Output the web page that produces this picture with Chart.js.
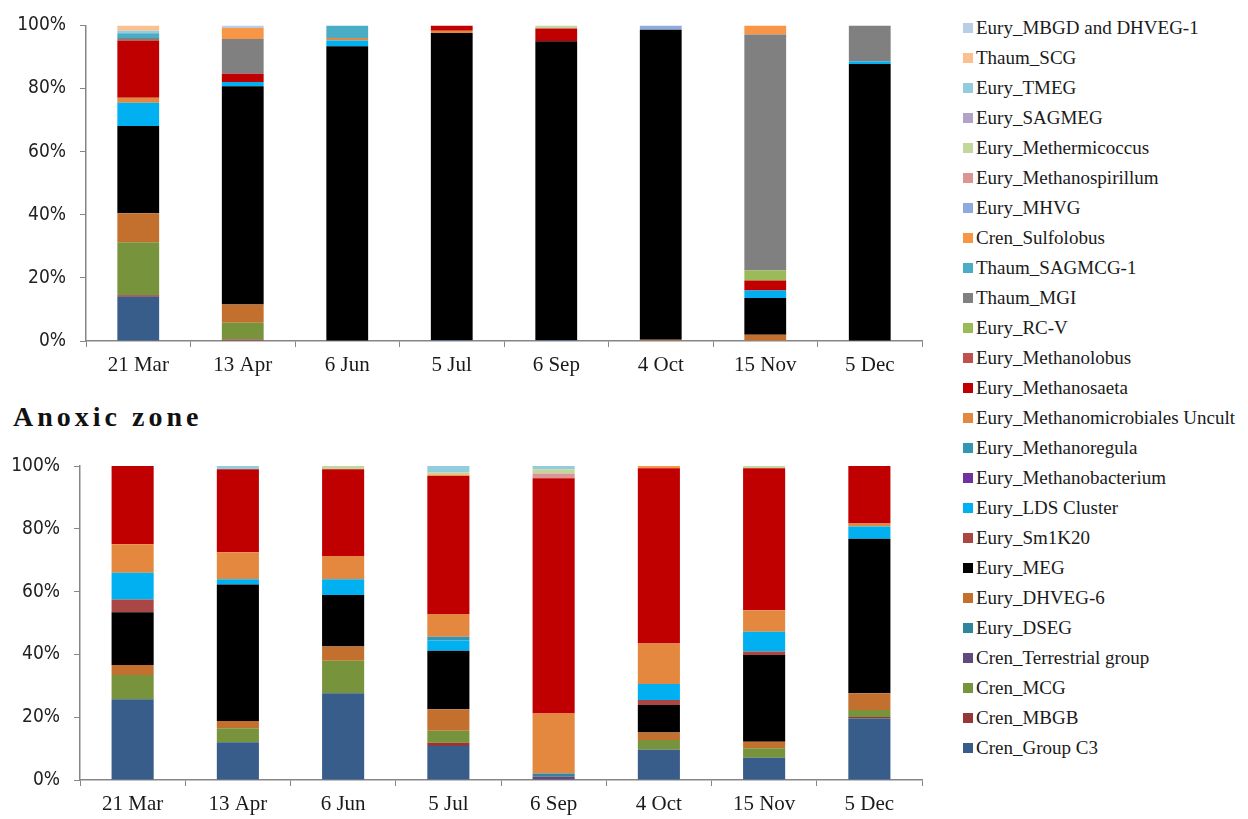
<!DOCTYPE html>
<html>
<head>
<meta charset="utf-8">
<script src="https://cdn.jsdelivr.net/npm/chart.js@4.4.0/dist/chart.umd.min.js"></script>
<style>
  body { margin: 0; background: #fff; width: 1248px; height: 819px; overflow: hidden; position: relative; }
  canvas { position: absolute; }
  #oxic { left: 0; top: 0; }
  #anoxic { left: 0; top: 440px; }
  #title2 { position: absolute; left: 13px; top: 401px; font: bold 28px "Liberation Serif", serif; letter-spacing: 4px; color: #111; }
  #legend { position: absolute; left: 963px; top: 13px; font: 19px "Liberation Serif", serif; color: #1a1a1a; }
  #legend div { height: 30px; line-height: 30px; white-space: nowrap; }
  #legend span { display: inline-block; width: 10px; height: 10px; margin-right: 3px; vertical-align: 1px; }
</style>
</head>
<body>
<canvas id="oxic" width="940" height="380"></canvas>
<div id="title2">Anoxic zone</div>
<canvas id="anoxic" width="940" height="379"></canvas>
<div id="legend"></div>

<script>
// sampling dates
const dates = ['21 Mar', '13 Apr', '6 Jun', '5 Jul', '6 Sep', '4 Oct', '15 Nov', '5 Dec'];
const yTicks = [0, 20, 40, 60, 80, 100];

// groups, bottom of the stack first
const groups = [
  'Cren_Group C3', 'Cren_MBGB', 'Cren_MCG', 'Cren_Terrestrial group', 'Eury_DSEG',
  'Eury_DHVEG-6', 'Eury_MEG', 'Eury_Sm1K20', 'Eury_LDS Cluster', 'Eury_Methanobacterium',
  'Eury_Methanoregula', 'Eury_Methanomicrobiales Uncult', 'Eury_Methanosaeta', 'Eury_Methanolobus', 'Eury_RC-V',
  'Thaum_MGI', 'Thaum_SAGMCG-1', 'Cren_Sulfolobus', 'Eury_MHVG', 'Eury_Methanospirillum',
  'Eury_Methermicoccus', 'Eury_SAGMEG', 'Eury_TMEG', 'Thaum_SCG', 'Eury_MBGD and DHVEG-1'
];
const colors = [
  '#385d8a', '#953735', '#77933c', '#604a7b', '#31859c',
  '#c3702f', '#000000', '#aa4643', '#00b0f0', '#7030a0',
  '#3296b4', '#e3883e', '#c00000', '#c0504d', '#9bbb59',
  '#808080', '#4bacc6', '#f79646', '#8ea9db', '#d99694',
  '#c3d69b', '#b3a2c7', '#93cddd', '#fac090', '#b9cde5'
];

// oxic zone (% of archaeal sequences)
const oxGroupC3   = [14.0, 0,    0,    0.3,  0.3,  0,    0,    0];
const oxMBGB      = [0.5,  0.5,  0,    0,    0,    0,    0,    0];
const oxMCG       = [16.8, 5.3,  0,    0,    0,    0,    0,    0];
const oxTerr      = [0,    0,    0,    0,    0,    0,    0,    0];
const oxDSEG      = [0,    0,    0,    0,    0,    0,    0,    0];
const oxDHVEG6    = [9.2,  5.8,  0,    0,    0,    0.4,  2.0,  0];
const oxMEG       = [27.6, 69.1, 93.4, 97.3, 94.7, 98.2, 11.6, 87.8];
const oxSm1K20    = [0,    0,    0,    0,    0,    0,    0,    0];
const oxLDS       = [7.4,  1.4,  1.8,  0,    0,    0,    2.4,  0.8];
const oxMbact     = [0,    0,    0,    0,    0,    0,    0,    0];
const oxMregula   = [0,    0,    0,    0,    0,    0,    0,    0];
const oxUncult    = [1.6,  0,    0.8,  0.7,  0,    0,    0,    0];
const oxMsaeta    = [18.1, 2.6,  0,    1.7,  4.0,  0,    3.2,  0];
const oxMlobus    = [0,    0,    0,    0,    0,    0,    0,    0];
const oxRCV       = [0,    0,    0,    0,    0,    0,    3.1,  0];
const oxMGI       = [0.8,  11.0, 0,    0,    0,    0,    74.8, 11.4];
const oxSAGMCG    = [1.5,  0,    4.0,  0,    0,    0,    0,    0];
const oxSulfo     = [0,    3.5,  0,    0,    0,    0,    2.9,  0];
const oxMHVG      = [0,    0,    0,    0,    0,    1.4,  0,    0];
const oxMspir     = [0,    0,    0,    0,    0,    0,    0,    0];
const oxMtherm    = [0,    0,    0,    0,    1.0,  0,    0,    0];
const oxSAGMEG    = [0,    0,    0,    0,    0,    0,    0,    0];
const oxTMEG      = [0.8,  0,    0,    0,    0,    0,    0,    0];
const oxSCG       = [1.7,  0,    0,    0,    0,    0,    0,    0];
const oxMBGD      = [0,    0.8,  0,    0,    0,    0,    0,    0];

// anoxic zone
const anGroupC3   = [25.7, 12.0, 27.6, 10.8, 0,    9.6,  7.1,  19.6];
const anMBGB      = [0,    0,    0,    1.1,  0,    0,    0,    0.5];
const anMCG       = [7.7,  4.5,  10.4, 3.8,  0,    3.1,  3.0,  2.2];
const anTerr      = [0,    0,    0,    0,    1.1,  0,    0,    0];
const anDSEG      = [0,    0,    0,    0,    1.0,  0,    0,    0];
const anDHVEG6    = [3.2,  2.3,  4.5,  6.8,  0,    2.4,  2.1,  5.3];
const anMEG       = [16.8, 43.5, 16.4, 18.7, 0,    8.8,  27.6, 49.2];
const anSm1K20    = [4.1,  0,    0,    0,    0,    1.6,  1.1,  0];
const anLDS       = [8.5,  1.6,  5.0,  3.2,  0,    5.1,  6.3,  3.9];
const anMbact     = [0,    0,    0,    0,    0,    0,    0,    0];
const anMregula   = [0,    0,    0,    1.2,  0,    0,    0,    0];
const anUncult    = [9.1,  8.6,  7.4,  7.3,  19.1, 12.9, 6.9,  1.0];
const anMsaeta    = [24.9, 26.5, 27.7, 43.9, 74.9, 55.8, 45.2, 18.3];
const anMlobus    = [0,    0,    0,    0,    0,    0,    0,    0];
const anRCV       = [0,    0,    0,    0,    0,    0,    0,    0];
const anMGI       = [0,    0,    0,    0,    0,    0,    0,    0];
const anSAGMCG    = [0,    0,    0,    0,    0,    0,    0,    0];
const anSulfo     = [0,    0,    0,    0.5,  0,    0.7,  0,    0];
const anMHVG      = [0,    0,    0,    0,    0,    0,    0,    0];
const anMspir     = [0,    0,    0,    0,    1.5,  0,    0,    0];
const anMtherm    = [0,    0,    1.0,  0.6,  1.4,  0,    0.7,  0];
const anSAGMEG    = [0,    0,    0,    0,    0,    0,    0,    0];
const anTMEG      = [0,    1.0,  0,    2.1,  1.0,  0,    0,    0];
const anSCG       = [0,    0,    0,    0,    0,    0,    0,    0];
const anMBGD      = [0,    0,    0,    0,    0,    0,    0,    0];

const oxicValues = [oxGroupC3, oxMBGB, oxMCG, oxTerr, oxDSEG, oxDHVEG6, oxMEG, oxSm1K20, oxLDS, oxMbact,
  oxMregula, oxUncult, oxMsaeta, oxMlobus, oxRCV, oxMGI, oxSAGMCG, oxSulfo, oxMHVG, oxMspir,
  oxMtherm, oxSAGMEG, oxTMEG, oxSCG, oxMBGD];
const anoxicValues = [anGroupC3, anMBGB, anMCG, anTerr, anDSEG, anDHVEG6, anMEG, anSm1K20, anLDS, anMbact,
  anMregula, anUncult, anMsaeta, anMlobus, anRCV, anMGI, anSAGMCG, anSulfo, anMHVG, anMspir,
  anMtherm, anSAGMEG, anTMEG, anSCG, anMBGD];

var axisGrey = '#868686';

function makeChart(id, values, yWidth, padTop) {
  var ds = groups.map(function(g, i) {
    return { label: g, data: values[i], backgroundColor: colors[i], borderWidth: 0,
             barPercentage: 0.4, categoryPercentage: 1.0 };
  });
  return new Chart(document.getElementById(id), {
    type: 'bar',
    data: { labels: dates, datasets: ds },
    options: {
      responsive: false,
      animation: false,
      layout: { padding: { top: padTop, right: 18, left: 0, bottom: 0 } },
      plugins: { legend: { display: false }, tooltip: { enabled: false } },
      scales: {
        x: {
          stacked: true,
          grid: { display: true, drawOnChartArea: false, drawTicks: true, tickLength: 6, color: axisGrey, offset: true },
          border: { color: axisGrey, width: 1.5 },
          ticks: { color: '#1a1a1a', padding: 6, font: { family: 'Liberation Serif', size: 21 } },
          afterFit: function(s) { s.height = 39; }
        },
        y: {
          stacked: true,
          min: 0, max: 100,
          afterBuildTicks: function(s) { s.ticks = yTicks.map(function(v) { return { value: v }; }); },
          grid: { display: true, drawOnChartArea: false, drawTicks: true, tickLength: 6, color: axisGrey },
          border: { color: axisGrey, width: 1.5 },
          ticks: { color: '#222', padding: 14, callback: function(v) { return v + '%'; },
                   font: { family: "'DejaVu Sans Condensed', 'DejaVu Sans'", size: 19 } },
          afterFit: function(s) { s.width = yWidth; }
        }
      }
    }
  });
}

makeChart('oxic', oxicValues, 86, 24);
makeChart('anoxic', anoxicValues, 80, 26);

// shared legend, top of the stack first
var leg = document.getElementById('legend');
for (var i = groups.length - 1; i >= 0; i--) {
  var row = document.createElement('div');
  var sw = document.createElement('span');
  sw.style.background = colors[i];
  row.appendChild(sw);
  row.appendChild(document.createTextNode(groups[i]));
  leg.appendChild(row);
}
</script>
</body>
</html>
